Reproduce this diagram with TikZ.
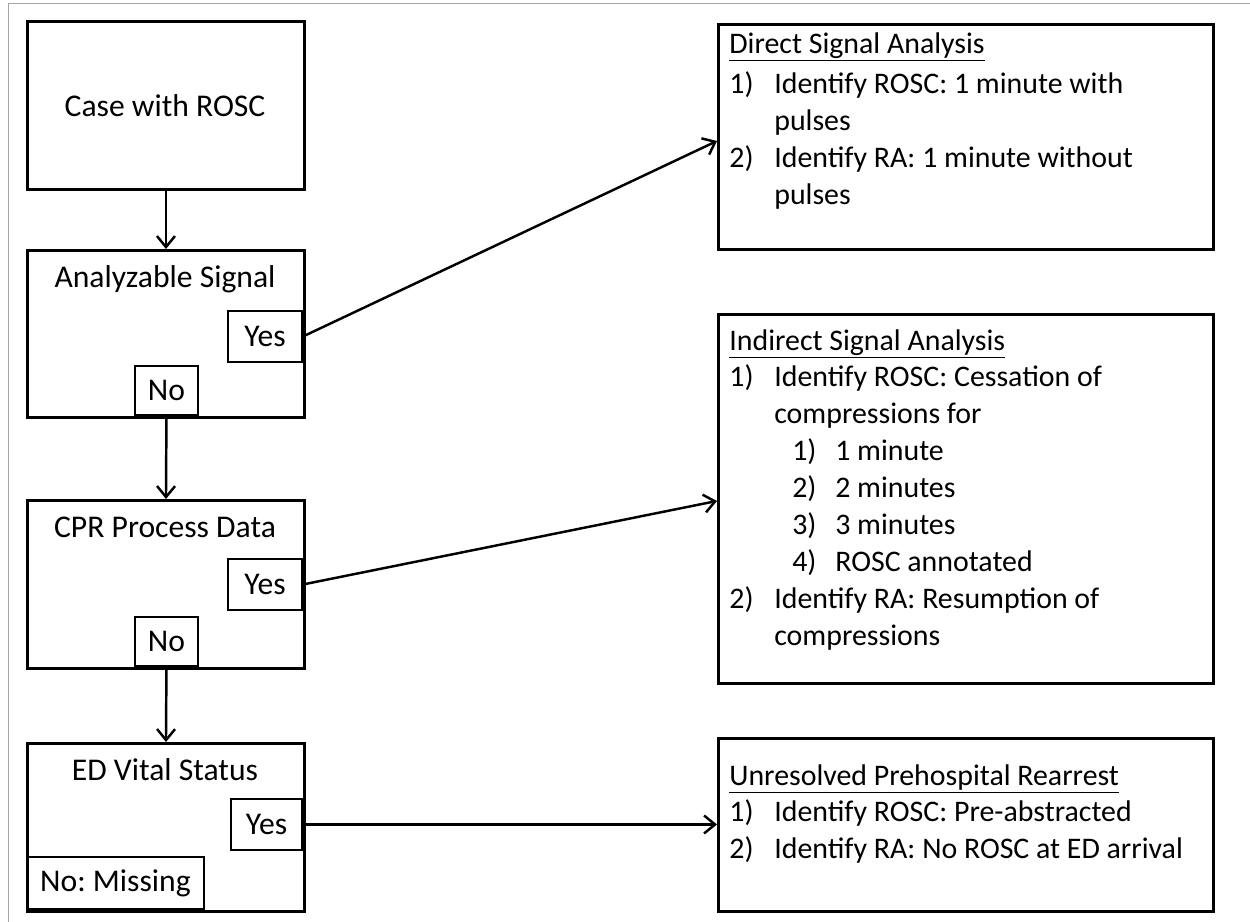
\documentclass[tikz,border=0pt]{standalone}
\usepackage{fontspec}
\setmainfont{Carlito}
\usetikzlibrary{positioning,arrows.meta,calc}

% item label of fixed width
\newcommand{\itm}[1]{\makebox[0.9cm][l]{#1}}
\newcommand{\subitm}[1]{\hspace*{1.26cm}\makebox[0.86cm][l]{#1}}

\begin{document}
\frenchspacing
\begin{tikzpicture}[
    x=0.02cm, y=-0.02cm,
    every node/.style={font=\fontsize{18}{22}\selectfont},
    stage/.style={draw, line width=1.7pt, minimum width=5.54cm, anchor=north west, inner sep=0pt},
    answer/.style={draw, line width=1.1pt, minimum height=1.02cm, inner sep=2pt},
    result/.style={draw, line width=1.7pt, minimum width=9.9cm, anchor=north west, inner sep=0pt},
    listing/.style={anchor=north west, align=left, inner sep=0pt, font=\fontsize{17}{21}\selectfont},
    flow/.style={->, line width=1.4pt},
    >={Straight Barb[length=2.2mm,width=3.6mm]}
]
\useasboundingbox (0,0) rectangle (1250,922);

% outer frame
\draw[gray!70, line width=1.1pt] (8.5,940) -- (8.5,3.5) -- (1270,3.5);

% Left column
\node[stage, minimum height=3.36cm] (case) at (26,20) {};
\node[anchor=base] (casetxt) at (165,117) {Case with ROSC};

\node[stage, minimum height=3.34cm] (signal) at (26,249) {};
\node[anchor=base] (signaltxt) at (165,287) {Analyzable Signal};
\node[answer, minimum width=1.48cm, anchor=north east] (yes1) at (303,310) {Yes};
\node[answer, minimum width=1.26cm, minimum height=0.98cm, anchor=south west] (no1) at (134,416) {No};

\node[stage, minimum height=3.36cm] (cpr) at (26,499) {};
\node[anchor=base] (cprtxt) at (165,537) {CPR Process Data};
\node[answer, minimum width=1.48cm, anchor=north east] (yes2) at (303,558) {Yes};
\node[answer, minimum width=1.26cm, minimum height=0.98cm, anchor=south west] (no2) at (134,667) {No};

\node[stage, minimum height=3.36cm] (vital) at (26,742) {};
\node[anchor=base] (vitaltxt) at (165,780) {ED Vital Status};
\node[answer, minimum width=1.42cm, anchor=north east] (yes3) at (303,798) {Yes};
\node[answer, minimum width=3.54cm, minimum height=1.04cm, anchor=south west] (missing) at (26,910) {No: Missing};

% Right column
\node[result, minimum height=4.5cm] (direct) at (717,23) {};
\node[listing] (directtxt) at (729,32)
{\underline{Direct Signal Analysis}\\[2pt]
 \itm{1)}Identify ROSC: 1 minute with\\
 \itm{}pulses\\
 \itm{2)}Identify RA: 1 minute without\\
 \itm{}pulses};

\node[result, minimum height=7.38cm] (indirect) at (717,313) {};
\node[listing] (indirecttxt) at (729,329)
{\underline{Indirect Signal Analysis}\\
 \itm{1)}Identify ROSC: Cessation of\\
 \itm{}compressions for\\
 \subitm{1)}1 minute\\
 \subitm{2)}2 minutes\\
 \subitm{3)}3 minutes\\
 \subitm{4)}ROSC annotated\\
 \itm{2)}Identify RA: Resumption of\\
 \itm{}compressions};

\node[result, minimum height=3.46cm] (unresolved) at (717,737) {};
\node[listing] (unresolvedtxt) at (729,764)
{\underline{Unresolved Prehospital Rearrest}\\
 \itm{1)}Identify ROSC: Pre-abstracted\\
 \itm{2)}Identify RA: No ROSC at ED arrival};

% Arrows
\draw[flow] (case.south) -- (signal.north);
\draw[flow] (no1.south) -- (cpr.north);
\draw[flow] (no2.south) -- (vital.north);

\draw[flow] (yes1.east) -- ($(direct.west)+(0,4)$);
\draw[flow] (yes2.east) -- ($(indirect.west)+(0,2)$);
\draw[flow] (yes3.east) -- (yes3.east -| unresolved.west);

\end{tikzpicture}
\end{document}
